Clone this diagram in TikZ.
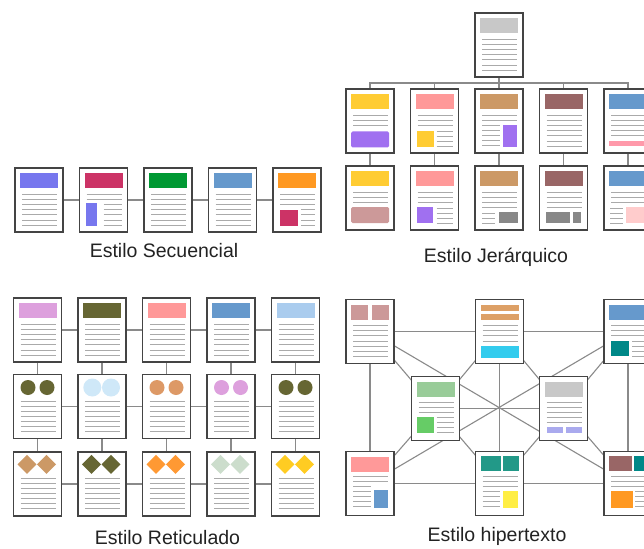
\documentclass[tikz,border=0pt]{standalone}
\usepackage{fontspec}
\setmainfont{Liberation Sans}
\usetikzlibrary{backgrounds}
\definecolor{pageborder}{HTML}{444444}
\definecolor{linegray}{HTML}{AAAAAA}
\definecolor{conngray}{HTML}{8A8A8A}
\definecolor{labelc}{HTML}{222222}
\definecolor{cViolet}{HTML}{7777EE}
\definecolor{cCrimson}{HTML}{CC3366}
\definecolor{cGreen}{HTML}{009933}
\definecolor{cBlue}{HTML}{6699CC}
\definecolor{cOrange}{HTML}{FF9922}
\definecolor{cGray}{HTML}{C8C8C8}
\definecolor{cYellow}{HTML}{FFCC33}
\definecolor{cPurple}{HTML}{A070F0}
\definecolor{cPink}{HTML}{FF9999}
\definecolor{cTan}{HTML}{CC9966}
\definecolor{cMauve}{HTML}{996666}
\definecolor{cPinkbar}{HTML}{FF99AA}
\definecolor{cRose}{HTML}{CC9999}
\definecolor{cDgray}{HTML}{888888}
\definecolor{cLpink}{HTML}{FFCCCC}
\definecolor{cLilac}{HTML}{DDA0DD}
\definecolor{cOlive}{HTML}{666633}
\definecolor{cLblue}{HTML}{AACCEE}
\definecolor{cCloud}{HTML}{CFE8F8}
\definecolor{cTanC}{HTML}{DD9966}
\definecolor{cOrangeD}{HTML}{FF9933}
\definecolor{cPale}{HTML}{CCDDCC}
\definecolor{cYellowD}{HTML}{FFCC22}
\definecolor{cTanO}{HTML}{DDA066}
\definecolor{cCyan}{HTML}{33CCEE}
\definecolor{cTeal}{HTML}{008888}
\definecolor{cLgreen}{HTML}{99CC99}
\definecolor{cGreenS}{HTML}{66CC66}
\definecolor{cLav}{HTML}{AAAAEE}
\definecolor{cTealB}{HTML}{229988}
\definecolor{cYellowB}{HTML}{FFEE44}
\tikzset{
  pagebox/.style={draw=pageborder, line width=1.3pt, fill=white,
    minimum width=48pt, minimum height=64pt, inner sep=0pt, outer sep=0pt},
  textline/.style={draw=linegray, line width=0.9pt},
  conn/.style={draw=conngray, line width=1.1pt},
  lbl/.style={font=\fontsize{19.5}{22}\selectfont, text=labelc, anchor=base, inner sep=0pt},
}
\newcommand\docpage[3]{\node[pagebox] (#1) at (#2) {};
  \begin{scope}[shift={(#1.north west)}] #3 \end{scope}}
\newcommand\dhdr[1]{\fill[#1] (5,5) rectangle (43,20);}
\newcommand\dfl[1]{\foreach \yy in {#1}{\draw[textline] (7,\yy) -- (42,\yy);}}
\newcommand\dpl[3]{\foreach \yy in {#3}{\draw[textline] (#1,\yy) -- (#2,\yy);}}
\newcommand\dall{\dfl{26,31.2,36.4,41.6,46.8,52,57.2}}
\newcommand\dcircs[1]{\fill[#1] (14.5,13) circle (7.5); \fill[#1] (33.5,13) circle (7.5);
  \dfl{26.7,31.7,36.7,41.7,46.7,51.7,56.7}}
\newcommand\ddiams[1]{\foreach \cx in {13.5,33}{\fill[#1] (\cx-9.5,12.3) -- (\cx,2.8) -- (\cx+9.5,12.3) -- (\cx,21.8) -- cycle;}
  \dfl{26.7,31.7,36.7,41.7,46.7,51.7,56.7}}
\begin{document}
\begin{tikzpicture}[x=1pt,y=-1pt]
\useasboundingbox (0,0) rectangle (644,548);
% ---------------- Sequential
\docpage{s1}{39,200}{\dhdr{cViolet}\dall}
\docpage{s2}{103.5,200}{\dhdr{cCrimson}\dfl{26,31.2}\fill[cViolet] (6.5,35) rectangle (17.5,58);\dpl{24}{42}{36.4,41.6,46.8,52,57.2}}
\docpage{s3}{168,200}{\dhdr{cGreen}\dall}
\docpage{s4}{232.5,200}{\dhdr{cBlue}\dall}
\docpage{s5}{297,200}{\dhdr{cOrange}\dfl{26,31.2,36.4}\fill[cCrimson] (6.5,41.5) rectangle (24.5,58);\dpl{28}{42}{41.6,46.8,52,57.2}}
\node[lbl] (ls) at (164,257) {Estilo Secuencial};
% ---------------- Hierarchical
\docpage{h0}{499,45}{\dhdr{cGray}\dall}
\docpage{h1}{370,121}{\dhdr{cYellow}\dfl{26.7,31.7,36.7}\fill[cPurple, rounded corners=1.5pt] (5,42.5) rectangle (43,58.5);}
\docpage{h2}{434.5,121}{\dhdr{cPink}\dfl{26.7,31.7,36.7}\fill[cYellow] (6,42) rectangle (23,58.5);\dpl{26}{42}{42,47,52,57}}
\docpage{h3}{499,121}{\dhdr{cTan}\dfl{26.7,31.7}\fill[cPurple] (28,36) rectangle (42,58.5);\dpl{7}{25}{36.7,41.7,46.7,51.7,56.7}}
\docpage{h4}{563.5,121}{\dhdr{cMauve}\dall}
\docpage{h5}{628,121}{\dhdr{cBlue}\dfl{26.7,31.7,36.7,41.7,46.7}\fill[cPinkbar] (5,52) rectangle (43,57.5);}
\docpage{h6}{370,198}{\dhdr{cYellow}\dfl{26.7,31.7,36.7}\fill[cRose, rounded corners=1.5pt] (5,41) rectangle (43,57);}
\docpage{h7}{434.5,198}{\dhdr{cPink}\dfl{26.7,31.7,36.7}\fill[cPurple] (6,40.7) rectangle (22.5,57.3);\dpl{26}{42}{42,47,52,57}}
\docpage{h8}{499,198}{\dhdr{cTan}\dfl{26.7,31.7,36.7,41.7}\fill[cDgray] (23.5,45.5) rectangle (42.5,57.3);\dpl{7}{20}{47,52,57}}
\docpage{h9}{563.5,198}{\dhdr{cMauve}\dfl{26.7,31.7,36.7,41.7}\fill[cDgray] (6,45.5) rectangle (30,57.3);\fill[cDgray] (33,45.5) rectangle (41,57.3);}
\docpage{h10}{628,198}{\dhdr{cBlue}\dfl{26.7,31.7,36.7}\fill[cLpink] (22,40.7) rectangle (43,57.3);\dpl{6}{19}{42,47,52,57}}
\coordinate (bus) at (499,83);
\node[lbl] (lh) at (496,262) {Estilo Jerárquico};
% ---------------- Reticulated
\docpage{r1}{37.5,330}{\dhdr{cLilac}\dall}
\docpage{r2}{102,330}{\dhdr{cOlive}\dall}
\docpage{r3}{166.5,330}{\dhdr{cPink}\dall}
\docpage{r4}{231,330}{\dhdr{cBlue}\dall}
\docpage{r5}{295.5,330}{\dhdr{cLblue}\dall}
\docpage{r6}{37.5,406.5}{\dcircs{cOlive}}
\docpage{r7}{102,406.5}{\fill[cCloud] (14.3,13) circle (9); \fill[cCloud] (33,13) circle (9);\dfl{26.7,31.7,36.7,41.7,46.7,51.7,56.7}}
\docpage{r8}{166.5,406.5}{\dcircs{cTanC}}
\docpage{r9}{231,406.5}{\dcircs{cLilac}}
\docpage{r10}{295.5,406.5}{\dcircs{cOlive}}
\docpage{r11}{37.5,484}{\ddiams{cTan}}
\docpage{r12}{102,484}{\ddiams{cOlive}}
\docpage{r13}{166.5,484}{\ddiams{cOrangeD}}
\docpage{r14}{231,484}{\ddiams{cPale}}
\docpage{r15}{295.5,484}{\ddiams{cYellowD}}
\node[lbl] (lr) at (167.5,544) {Estilo Reticulado};
% ---------------- Hypertext
\docpage{tl}{370,331.5}{\fill[cRose] (5,5) rectangle (22,20.7);\fill[cRose] (25.7,5) rectangle (43,20.7);\dall}
\docpage{tm}{499.5,331.5}{\fill[cTanO] (5,5) rectangle (43,11.7);\fill[cTanO] (5,14) rectangle (43,20.7);\dfl{26,31,36,41.7}\fill[cCyan] (5,46.7) rectangle (43,58.3);}
\docpage{tr}{628,331.5}{\dhdr{cBlue}\dfl{26,31,36}\fill[cTeal] (6.7,41.7) rectangle (25.3,56.7);\dpl{28}{42}{42,47,52,57}}
\docpage{ml}{435.5,408.5}{\dhdr{cLgreen}\dfl{25.7,30.7,35.7}\fill[cGreenS] (5,40.3) rectangle (22,56.3);\dpl{25}{42}{41,46,51,56}}
\docpage{mr}{563.5,408.5}{\dhdr{cGray}\dfl{25.7,30.7,35.7,40.7,45.7}\fill[cLav] (7.5,50.3) rectangle (23.5,56.3);\fill[cLav] (26,50.3) rectangle (42.5,56.3);}
\docpage{bl}{370,483.5}{\dhdr{cPink}\dfl{24.7,29.7}\fill[cBlue] (28.3,38) rectangle (42.3,56.3);\dpl{7}{25}{34.7,39.7,44.7,49.7,54.7}}
\docpage{bm}{499.5,483.5}{\fill[cTealB] (5,4.7) rectangle (25,19.7);\fill[cTealB] (27.7,4.7) rectangle (43,19.7);\dfl{24.7,29.7,34.7}\fill[cYellowB] (27.7,39.7) rectangle (42.3,56.3);\dpl{7}{24}{39.7,44.7,49.7,54.7}}
\docpage{br}{628,483.5}{\fill[cMauve] (5,4.7) rectangle (28,19.7);\fill[cTeal] (30,4.7) rectangle (43,19.7);\dfl{24.7,29.7,34.7}\fill[cOrange] (6.7,39.7) rectangle (28.7,56.3);\dpl{31}{42}{39.7,44.7,49.7,54.7}}
\node[lbl] (lt) at (497,541) {Estilo hipertexto};
% ---------------- Connectors
\begin{scope}[on background layer]
  \draw[conn] (s1) -- (s2) -- (s3) -- (s4) -- (s5);
  \draw[conn] (h0) -- (bus);
  \foreach \n in {h1,h2,h3,h4,h5}{\draw[conn] (bus) -| (\n);}
  \draw[conn] (h1) -- (h6); \draw[conn] (h2) -- (h7); \draw[conn] (h3) -- (h8);
  \draw[conn] (h4) -- (h9); \draw[conn] (h5) -- (h10);
  \draw[conn] (r1) -- (r2) -- (r3) -- (r4) -- (r5);
  \draw[conn] (r6) -- (r7) -- (r8) -- (r9) -- (r10);
  \draw[conn] (r11) -- (r12) -- (r13) -- (r14) -- (r15);
  \draw[conn] (r1) -- (r6) -- (r11); \draw[conn] (r2) -- (r7) -- (r12);
  \draw[conn] (r3) -- (r8) -- (r13); \draw[conn] (r4) -- (r9) -- (r14);
  \draw[conn] (r5) -- (r10) -- (r15);
  \draw[conn] (tl) -- (tm) -- (tr); \draw[conn] (bl) -- (bm) -- (br);
  \draw[conn] (ml) -- (mr);
  \draw[conn] (tl) -- (bl); \draw[conn] (tm) -- (bm); \draw[conn] (tr) -- (br);
  \draw[conn] (tl) -- (br); \draw[conn] (tr) -- (bl);
  \draw[conn] (tl) -- (ml); \draw[conn] (tm) -- (ml); \draw[conn] (tm) -- (mr);
  \draw[conn] (tr) -- (mr); \draw[conn] (bl) -- (ml); \draw[conn] (bm) -- (ml);
  \draw[conn] (bm) -- (mr); \draw[conn] (br) -- (mr);
\end{scope}
\end{tikzpicture}
\end{document}
